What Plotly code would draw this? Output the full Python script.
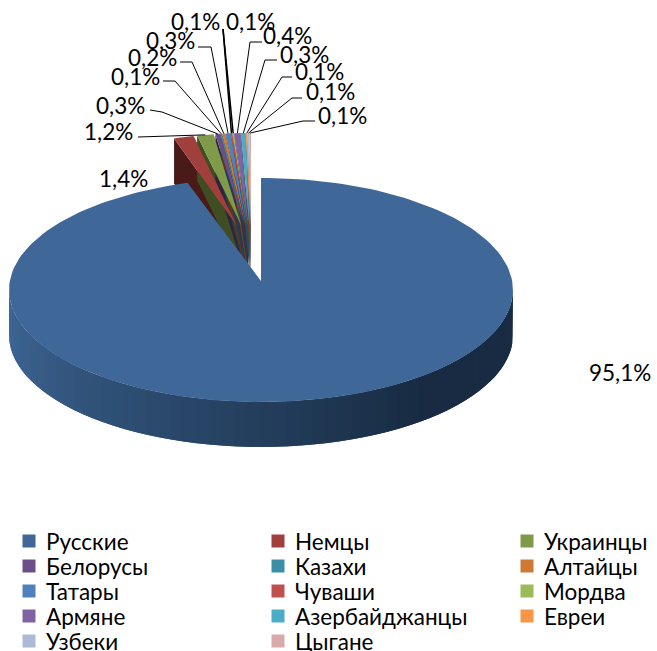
import math
import plotly.graph_objects as go

# ---- data
categories = ["Русские", "Немцы", "Украинцы", "Белорусы", "Казахи", "Алтайцы", "Татары",
              "Чуваши", "Мордва", "Армяне", "Азербайджанцы", "Евреи", "Узбеки", "Цыгане"]
values = [95.1, 1.4, 1.2, 0.3, 0.1, 0.2, 0.3, 0.1, 0.1, 0.4, 0.3, 0.1, 0.1, 0.1]
colors = ["#3f6898", "#a03f3c", "#7f9a48", "#6a4f8a", "#3b8ea6", "#cd7a35", "#4f81bd",
          "#c0504d", "#9bbb59", "#8064a2", "#4bacc6", "#f79646", "#aabad7", "#d9aaa9"]
wall_colors = ["#3f6898", "#4a1a18", "#3e4d22", "#2f2340", "#1b424e", "#5f3818", "#243c58",
               "#592523", "#485729", "#3b2e4b", "#23505c", "#733f20", "#4f5664", "#655050"]

# ---- layout geometry (pixels)
W, H = 657, 651
main_cx, main_cy, main_a, main_b = 261, 290, 252, 112
main_apex = (261, 281)
depth = 45
small_center = (251, 263)
small_a, small_b = 270, 130
small_apex_y = 226
small_apex_spread = 56
label_font = "Lato, 'Open Sans', sans-serif"
label_size = 22.5

# text centre of each value label, then the elbow of its leader line
label_pos = [(620, 372), (123, 178), (108, 131), (120, 105), (135, 76), (152, 57), (170, 40),
             (195, 21), (250, 21), (287, 35), (304, 54), (319, 71), (330, 91), (342, 115)]
label_line = [None, None, [(138, 137)], [(150, 110), (162, 112)], [(163, 81), (175, 81)],
              [(180, 62), (192, 62)], [(198, 47), (211, 47)], [(223, 29)], [(223, 29)],
              [(262, 42), (250, 42)], [(277, 60), (265, 60)], [(292, 77), (282, 77)],
              [(302, 98), (292, 98)], [(315, 121), (303, 121)]]
legend_col_x = [29, 278, 527]
legend_row_y = [541, 566, 591, 616, 641]
legend_text_dx = 15

total = sum(values)
edges = [0.0]
for v in values:
    edges.append(edges[-1] + v / total * 360)

fig = go.Figure()


def poly(xs, ys, color):
    fig.add_trace(go.Scatter(x=xs, y=ys, mode="lines", fill="toself", fillcolor=color,
                             line=dict(color=color, width=0),
                             hoverinfo="skip", showlegend=False))


def main_pt(p):
    r = math.radians(p)
    return main_cx + main_a * math.sin(r), main_cy - main_b * math.cos(r)


def small_pt(p):
    r = math.radians(p)
    return small_center[0] + small_a * math.sin(r), small_center[1] - small_b * math.cos(r)


# small exploded slices: every wall first, the tops hide them afterwards
tops = []
for i in range(1, len(values)):
    gap = 0.4 if i <= 2 else 0.0
    a0, a1 = edges[i] - 360 + gap, edges[i + 1] - 360 - gap
    steps = [a0 + (a1 - a0) * k / 8 for k in range(9)]
    arc = [small_pt(p) for p in steps]
    ax = small_center[0] + small_apex_spread * math.sin(math.radians((a0 + a1) / 2))
    ay = small_apex_y
    poly([arc[0][0], arc[0][0], ax, ax], [arc[0][1], arc[0][1] + depth, ay + depth, ay], wall_colors[i])
    poly([ax, ax, arc[-1][0]], [ay, ay + depth, arc[-1][1]], wall_colors[i])
    tops.append(([ax] + [q[0] for q in arc], [ay] + [q[1] for q in arc], colors[i]))
for xs, ys, c in tops:
    poly(xs, ys, c)

# front wall of the main slice, shaded from left to right; each band runs under the next
N = 60
for k in range(N):
    p0 = 270 - 180 * k / N
    p1 = max(90, 270 - 180 * (k + 2) / N)
    pts = [main_pt(p0 + (p1 - p0) * j / 3) for j in range(4)]
    t = min(1.0, (k + 0.5) / (N * 0.72))
    c = "rgb(%d,%d,%d)" % (64 + (24 - 64) * t, 106 + (43 - 106) * t, 154 + (66 - 154) * t)
    poly([q[0] for q in pts] + [q[0] for q in reversed(pts)],
         [q[1] for q in pts] + [q[1] + depth for q in reversed(pts)], c)

# main slice top
steps = [edges[1] * k / 200 for k in range(201)]
arc = [main_pt(p) for p in steps]
poly([main_apex[0]] + [q[0] for q in arc], [main_apex[1]] + [q[1] for q in arc], colors[0])

# leader lines
for i in range(2, len(values)):
    mid = (edges[i] + edges[i + 1]) / 2 - 360
    end = small_pt(mid)
    pts = label_line[i] + [end]
    fig.add_trace(go.Scatter(x=[q[0] for q in pts], y=[q[1] for q in pts], mode="lines",
                             line=dict(color="#000000", width=1.5 if i in (7, 8) else 1),
                             hoverinfo="skip", showlegend=False))

# value labels
for i, v in enumerate(values):
    fig.add_annotation(x=label_pos[i][0], y=label_pos[i][1], text=f"{v:.1f}%".replace(".", ","),
                       showarrow=False, xanchor="center", yanchor="middle",
                       font=dict(family=label_font, size=label_size, color="#000000"))

# legend entries, three columns read row by row
for i, (name, color) in enumerate(zip(categories, colors)):
    x = legend_col_x[i % 3]
    y = legend_row_y[i // 3]
    fig.add_trace(go.Scatter(x=[x], y=[y], mode="markers", name=name, hoverinfo="name", showlegend=False,
                             marker=dict(symbol="square", size=13, color=color)))
    fig.add_annotation(x=x + legend_text_dx, y=y, text=name, showarrow=False,
                       xanchor="left", yanchor="middle",
                       font=dict(family=label_font, size=label_size, color="#000000"))

fig.update_layout(
    width=W, height=H, margin=dict(l=0, r=0, t=0, b=0),
    paper_bgcolor="white", plot_bgcolor="white", showlegend=False,
    xaxis=dict(range=[0, W], visible=False, fixedrange=True),
    yaxis=dict(range=[H, 0], visible=False, fixedrange=True),
)
fig.write_html("out.html", config={"displayModeBar": False},
               post_script="document.body.style.margin='0';")
